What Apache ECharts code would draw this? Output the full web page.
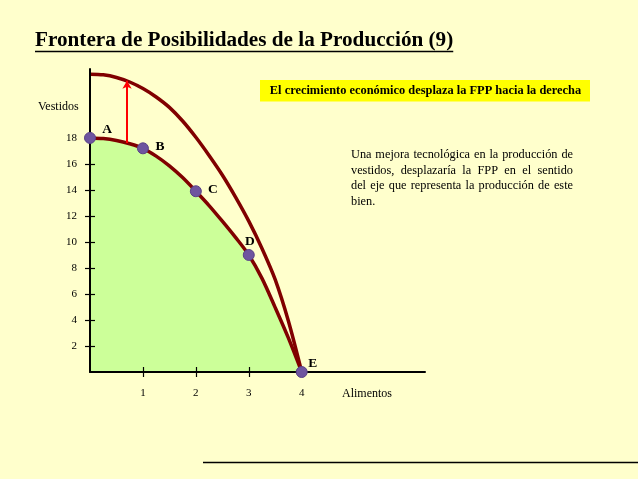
<!DOCTYPE html>
<html>
<head>
<meta charset="utf-8">
<script src="https://cdn.jsdelivr.net/npm/echarts@6/dist/echarts.min.js"></script>
<style>
html,body{margin:0;padding:0;background:#FFFFCC;}
#c{width:638px;height:479px;}
</style>
</head>
<body>
<div id="c"></div>
<script>
// ---- data ----
const titleText = 'Frontera de Posibilidades de la Producción (9)';
const yAxisName = 'Vestidos';
const xAxisName = 'Alimentos';
const xTicks = [1, 2, 3, 4];
const yTicks = [2, 4, 6, 8, 10, 12, 14, 16, 18];
const fppX = [0, 0.25, 0.5, 0.75, 1, 1.25, 1.5, 1.75, 2, 2.25, 2.5, 2.75, 3, 3.25, 3.5, 3.75, 4];
const fppInner = [18.0, 17.95, 17.8, 17.55, 17.2, 16.6, 15.85, 14.95, 13.9, 12.8, 11.6, 10.35, 9.0, 7.2, 4.95, 2.6, 0];
const fppOuter = [22.9, 22.85, 22.65, 22.3, 21.8, 21.15, 20.35, 19.3, 18.05, 16.65, 15.15, 13.45, 11.6, 9.5, 7.1, 3.9, 0];
const pointNames = ['A', 'B', 'C', 'D', 'E'];
const pointX = [0, 1, 2, 3, 4];
const pointY = [18, 17.2, 13.9, 9.0, 0];
const arrowX = 0.7, arrowFrom = 17.6, arrowTo = 22.4;
const boxText = 'El crecimiento económico desplaza la FPP hacia la derecha';
const noteLines = [
  'Una mejora tecnológica en la producción de',
  'vestidos, desplazaría la FPP en el sentido',
  'del eje que representa la producción de este',
  'bien.'
];

// ---- styling ----
const SERIF = '"Liberation Serif","Times New Roman","DejaVu Serif",serif';
const labelOffsets = {A: [17, -8], B: [17, -2], C: [17, -2], D: [1, -13], E: [11, -8]};

const canvas = document.createElement('canvas');
const ctx = canvas.getContext('2d');
function measure(text, font) { ctx.font = font; return ctx.measureText(text).width; }

const graphics = [];
// title
const titleFont = 'bold 21.2px ' + SERIF;
const titleW = measure(titleText, titleFont);
graphics.push({type: 'text', left: 35, top: 30, style: {text: titleText, font: titleFont, fill: '#000'}, z: 10});
graphics.push({type: 'line', shape: {x1: 35, y1: 51.5, x2: 35 + titleW, y2: 51.5}, style: {stroke: '#000', lineWidth: 1.5}, z: 10});
// axis names
graphics.push({type: 'text', x: 38, y: 107, style: {text: yAxisName, font: '12px ' + SERIF, fill: '#000', textVerticalAlign: 'middle'}});
graphics.push({type: 'text', x: 342, y: 394, style: {text: xAxisName, font: '12px ' + SERIF, fill: '#000', textVerticalAlign: 'middle'}});
// yellow box
graphics.push({type: 'rect', shape: {x: 260, y: 80, width: 330, height: 21.5}, style: {fill: '#FFFF00'}, z: 5});
graphics.push({type: 'text', x: 425.5, y: 91, style: {text: boxText, font: 'bold 12.4px ' + SERIF, fill: '#000', textAlign: 'center', textVerticalAlign: 'middle'}, z: 6});
// justified note
const noteFont = '12.3px ' + SERIF;
const noteLeft = 351, noteWidth = 222;
const noteY = [155, 170.5, 186, 201.5];
noteLines.forEach((line, i) => {
  const words = line.split(' ');
  if (i === noteLines.length - 1 || words.length < 2) {
    graphics.push({type: 'text', x: noteLeft, y: noteY[i], style: {text: line, font: noteFont, fill: '#000', textVerticalAlign: 'middle'}});
    return;
  }
  const widths = words.map(w => measure(w, noteFont));
  const total = widths.reduce((a, b) => a + b, 0);
  const gap = Math.max(2, (noteWidth - total) / (words.length - 1));
  let x = noteLeft;
  words.forEach((w, k) => {
    graphics.push({type: 'text', x: x, y: noteY[i], style: {text: w, font: noteFont, fill: '#000', textVerticalAlign: 'middle'}});
    x += widths[k] + gap;
  });
});
// bottom rule
graphics.push({type: 'line', shape: {x1: 203, y1: 462.5, x2: 638, y2: 462.5}, style: {stroke: '#000', lineWidth: 1.5}});

const xMax = 6.33, yMax = 23.3;
const baseX = {type: 'value', min: 0, max: xMax, gridIndex: 0, position: 'bottom', splitLine: {show: false}};
const baseY = {type: 'value', min: 0, max: yMax, gridIndex: 0, position: 'left', splitLine: {show: false}};

const option = {
  backgroundColor: '#FFFFCC',
  animation: false,
  grid: {left: 90, right: 213, top: 69, bottom: 107, containLabel: false},
  xAxis: [
    Object.assign({}, baseX, {
      z: 4,
      axisLine: {show: true, onZero: false, lineStyle: {color: '#000', width: 2}},
      axisTick: {show: true, inside: false, length: 5, customValues: xTicks, lineStyle: {color: '#000', width: 1.2}},
      axisLabel: {show: true, customValues: xTicks, margin: 16, fontSize: 11, fontFamily: SERIF, color: '#000'}
    }),
    Object.assign({}, baseX, {
      z: 4,
      axisLine: {show: false, onZero: false},
      axisTick: {show: true, inside: true, length: 5, customValues: xTicks, lineStyle: {color: '#000', width: 1.2}},
      axisLabel: {show: false}
    })
  ],
  yAxis: [
    Object.assign({}, baseY, {
      z: 4,
      axisLine: {show: true, onZero: false, lineStyle: {color: '#000', width: 2}},
      axisTick: {show: true, inside: false, length: 5, customValues: yTicks, lineStyle: {color: '#000', width: 1.2}},
      axisLabel: {show: true, customValues: yTicks, margin: 13, fontSize: 11, fontFamily: SERIF, color: '#000'}
    }),
    Object.assign({}, baseY, {
      z: 4,
      axisLine: {show: false, onZero: false},
      axisTick: {show: true, inside: true, length: 5, customValues: yTicks, lineStyle: {color: '#000', width: 1.2}},
      axisLabel: {show: false}
    })
  ],
  series: [
    {
      type: 'line', name: 'FPP', data: fppX.map((x, i) => [x, fppInner[i]]),
      smooth: 0.3, showSymbol: false, symbol: 'none',
      lineStyle: {color: '#800000', width: 3.5},
      areaStyle: {color: '#CCFF99', opacity: 1},
      z: 2
    },
    {
      type: 'line', name: 'FPP nueva', data: fppX.map((x, i) => [x, fppOuter[i]]),
      smooth: 0.3, showSymbol: false, symbol: 'none',
      lineStyle: {color: '#800000', width: 3.5},
      z: 2,
      markLine: {
        silent: true, symbol: ['none', 'arrow'], symbolSize: [7, 8],
        label: {show: false},
        lineStyle: {color: '#FF0000', width: 2, type: 'solid'},
        data: [[{coord: [arrowX, arrowFrom]}, {coord: [arrowX, arrowTo]}]]
      }
    },
    {
      type: 'scatter', name: 'Puntos',
      data: pointX.map((x, i) => ({
        value: [x, pointY[i]], name: pointNames[i],
        label: {offset: labelOffsets[pointNames[i]]}
      })),
      symbolSize: 11,
      itemStyle: {color: '#6E559F', borderColor: '#5A4288', borderWidth: 1, opacity: 1},
      label: {show: true, position: 'inside', formatter: p => p.name, fontFamily: SERIF, fontWeight: 'bold', fontSize: 13.5, color: '#000'},
      z: 6
    }
  ],
  graphic: graphics
};

const chart = echarts.init(document.getElementById('c'), null, {renderer: 'canvas'});
chart.setOption(option);
</script>
</body>
</html>
